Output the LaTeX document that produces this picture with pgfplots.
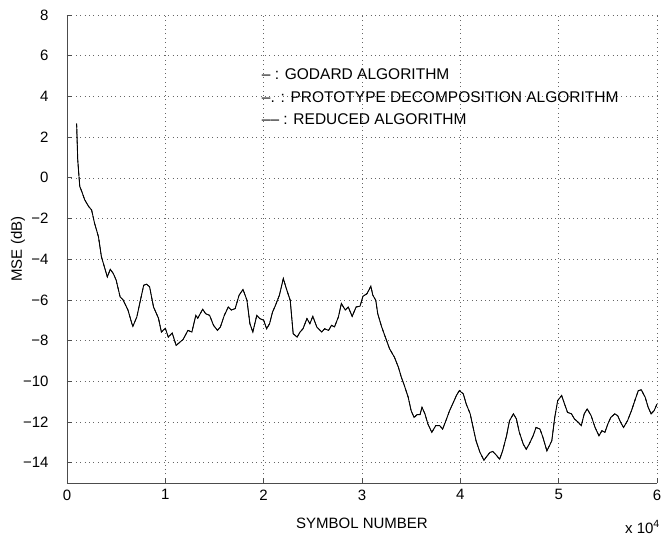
\documentclass[border=0pt]{standalone}
\usepackage{pgfplots}
\pgfplotsset{compat=1.18}
\usepackage{pgfplotstable}
\usepackage{fontspec}
\setmainfont{Liberation Sans}
\pgfplotstableread{
x y
0.098 2.66
0.109 0.90
0.122 0.06
0.13 -0.43
0.15 -0.67
0.18 -1.08
0.22 -1.41
0.25 -1.58
0.28 -2.23
0.32 -2.90
0.35 -3.88
0.39 -4.54
0.41 -4.87
0.44 -4.50
0.47 -4.70
0.50 -5.03
0.54 -5.85
0.57 -6.00
0.62 -6.50
0.66 -7.17
0.67 -7.30
0.71 -6.84
0.74 -6.17
0.78 -5.28
0.81 -5.23
0.84 -5.36
0.88 -6.35
0.93 -6.90
0.96 -7.58
1.00 -7.40
1.03 -7.83
1.07 -7.63
1.11 -8.24
1.15 -8.07
1.18 -7.95
1.23 -7.50
1.27 -7.58
1.31 -6.76
1.33 -6.90
1.38 -6.46
1.41 -6.68
1.45 -6.76
1.49 -7.25
1.53 -7.50
1.56 -7.33
1.60 -6.76
1.64 -6.35
1.67 -6.50
1.71 -6.43
1.75 -5.77
1.79 -5.49
1.83 -6.02
1.86 -7.17
1.89 -7.58
1.93 -6.76
1.96 -6.92
2.00 -7.00
2.03 -7.42
2.06 -7.17
2.09 -6.60
2.12 -6.27
2.16 -5.77
2.20 -4.95
2.23 -5.44
2.27 -6.02
2.30 -7.66
2.34 -7.83
2.37 -7.58
2.40 -7.42
2.44 -6.92
2.47 -7.17
2.50 -6.81
2.54 -7.33
2.59 -7.58
2.62 -7.42
2.66 -7.50
2.69 -7.25
2.72 -7.33
2.76 -6.84
2.79 -6.18
2.83 -6.50
2.86 -6.35
2.90 -6.81
2.94 -6.35
2.98 -6.31
3.01 -5.82
3.05 -5.70
3.09 -5.33
3.11 -5.77
3.14 -6.02
3.16 -6.68
3.20 -7.33
3.25 -8.00
3.28 -8.40
3.33 -8.82
3.37 -9.31
3.40 -9.80
3.43 -10.20
3.47 -10.79
3.50 -11.45
3.53 -11.78
3.56 -11.64
3.59 -11.64
3.61 -11.28
3.64 -11.60
3.67 -12.10
3.71 -12.51
3.75 -12.18
3.79 -12.18
3.82 -12.35
3.86 -11.85
3.89 -11.45
3.93 -11.03
3.96 -10.70
3.99 -10.46
4.03 -10.62
4.06 -11.12
4.10 -11.60
4.13 -12.27
4.16 -12.93
4.20 -13.50
4.24 -13.88
4.26 -13.75
4.30 -13.50
4.33 -13.45
4.36 -13.60
4.40 -13.83
4.43 -13.42
4.47 -12.68
4.50 -11.94
4.54 -11.60
4.57 -11.85
4.60 -12.51
4.64 -13.09
4.67 -13.34
4.70 -13.09
4.74 -12.68
4.77 -12.27
4.81 -12.35
4.84 -12.76
4.88 -13.42
4.93 -12.93
4.96 -11.78
4.99 -10.95
5.03 -10.70
5.06 -11.12
5.09 -11.53
5.13 -11.60
5.16 -11.85
5.20 -12.02
5.23 -12.18
5.26 -11.60
5.29 -11.36
5.33 -11.69
5.37 -12.27
5.41 -12.68
5.44 -12.43
5.47 -12.51
5.50 -12.10
5.53 -11.78
5.57 -11.60
5.60 -11.69
5.63 -12.02
5.66 -12.27
5.70 -11.94
5.74 -11.45
5.78 -10.87
5.81 -10.46
5.84 -10.42
5.88 -10.79
5.91 -11.28
5.94 -11.60
5.97 -11.45
6.00 -11.12
}\godard
\begin{document}
\begin{tikzpicture}
\begin{axis}[
  scale only axis,
  width=590pt, height=468pt,
  xmin=0, xmax=6, ymin=-15, ymax=8,
  axis x line*=bottom, axis y line*=left,
  axis line style={black!70, line width=0.8pt},
  tick style={black!70, line width=0.6pt},
  tick align=inside,
  major tick length=5pt,
  xtick={0,1,2,3,4,5,6},
  xticklabels={0,1,2,3,4,5,6},
  ytick={-14,-12,-10,-8,-6,-4,-2,0,2,4,6,8},
  yticklabels={−14,−12,−10,−8,−6,−4,−2,0,2,4,6,8},
  ticklabel style={font=\fontsize{15}{17}\selectfont},
  yticklabel style={xshift=-15pt},
  xticklabel style={yshift=-3pt},
  label style={font=\fontsize{15}{17}\selectfont},
  grid=major,
  major grid style={black!60, line width=0.5pt, dash pattern=on 0.8pt off 3.6pt},
  xlabel={SYMBOL NUMBER},
  ylabel={MSE (dB)},
  xlabel style={at={(axis description cs:0.5,0)}, anchor=center, yshift=-40pt},
  ylabel style={at={(axis description cs:0,0.5)}, anchor=center, yshift=49pt},
  clip=false,
]
\addplot[black, line width=0.9pt] table[x=x,y=y]{\godard};
\addplot[black, line width=0.6pt, dash pattern=on 4pt off 1.5pt on 1pt off 1.5pt] table[x=x,y=y]{\godard};
\addplot[black, line width=0.6pt, dashed] table[x=x,y=y]{\godard};
\node[anchor=west, font=\fontsize{15.5}{17}\selectfont, inner sep=0pt] at (axis cs:1.98,5.08) {– : GODARD ALGORITHM};
\node[anchor=west, font=\fontsize{15.5}{17}\selectfont, inner sep=0pt] at (axis cs:1.98,3.95) {–. : PROTOTYPE DECOMPOSITION ALGORITHM};
\node[anchor=west, font=\fontsize{15.5}{17}\selectfont, inner sep=0pt] at (axis cs:1.98,2.86) {–– : REDUCED ALGORITHM};
\node[anchor=east, font=\fontsize{15}{17}\selectfont, inner sep=0pt] at ([shift={(3pt,-44pt)}]rel axis cs:1,0) {x 10\textsuperscript{4}};
\end{axis}
\pgfresetboundingbox
\path ([shift={(-67pt,-54pt)}]current axis.south west) rectangle ([shift={(5pt,15pt)}]current axis.north east);
\end{tikzpicture}
\end{document}
